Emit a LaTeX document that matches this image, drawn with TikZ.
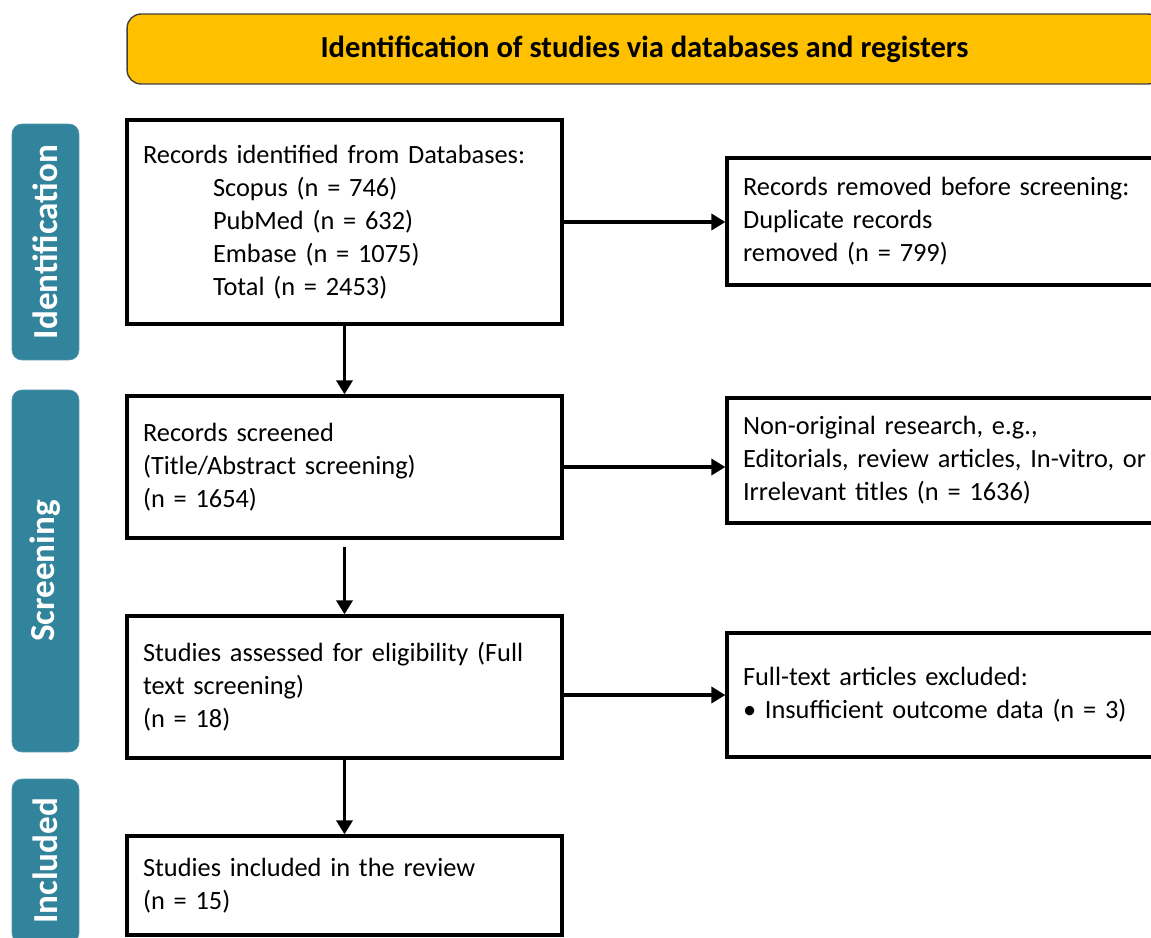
\documentclass[tikz,border=0pt]{standalone}
\usepackage{fontspec}
\setmainfont{Carlito}
\usetikzlibrary{arrows.meta}
\definecolor{bannerYellow}{HTML}{FFC000}
\definecolor{phaseTeal}{HTML}{31849B}
\tikzset{
  box/.style={draw, line width=1.9pt, align=left, inner xsep=0.32cm, font=\fontsize{15}{18.8}\selectfont},
  lbox/.style={box, text width=8.06cm},
  rbox/.style={box, text width=8.22cm},
  phase/.style={fill=phaseTeal, draw=phaseTeal!85!white, rounded corners=0.2cm, rotate=90, text=white, minimum height=1.34cm, font=\fontsize{20}{24}\selectfont\bfseries},
  flow/.style={line width=2.2pt, -{Triangle[length=0.28cm,width=0.32cm]}}
}

\begin{document}
\begin{tikzpicture}[x=0.02cm, y=-0.02cm]
\path[use as bounding box] (0,0) rectangle (1151,937);
\clip (0,0) rectangle (1151,937);
\node[fill=bannerYellow, draw=black!75, line width=0.8pt, rounded corners=0.28cm, minimum width=20.7cm, minimum height=1.4cm, font=\fontsize{17.4}{21}\selectfont\bfseries] (top) at (644.5,49) {Identification of studies via databases and registers};
\node[phase, minimum width=4.72cm] (pid) at (45.5,242) {Identification};
\node[phase, minimum width=7.24cm] (pscr) at (45.5,571) {Screening};
\node[phase, minimum width=3.28cm] (pinc) at (45.5,861) {Included};
\node[lbox, minimum height=4.08cm] (id) at (344.5,222) {Records identified from Databases:\\
  \hspace*{1.4cm}Scopus (n = 746)\\
  \hspace*{1.4cm}PubMed (n = 632)\\
  \hspace*{1.4cm}Embase (n = 1075)\\
  \hspace*{1.4cm}Total (n = 2453)};
\node[rbox, minimum height=2.54cm] (rem) at (948.5,221.5) {Records removed before screening:\\Duplicate records\\removed (n = 799)};
\node[lbox, minimum height=2.84cm] (scr) at (344.5,467) {Records screened\\(Title/Abstract screening)\\(n = 1654)};
\node[rbox, minimum height=2.5cm] (excl) at (948.5,460.5) {Non-original research, e.g.,\\Editorials, review articles, In-vitro, or\\Irrelevant titles (n = 1636)};
\node[lbox, minimum height=2.84cm] (elig) at (344.5,687) {Studies assessed for eligibility (Full\\text screening)\\(n = 18)};
\node[rbox, minimum height=2.48cm] (ftx) at (948.5,695) {Full-text articles excluded:\\\textbullet\ Insufficient outcome data (n = 3)};
\node[lbox, minimum height=1.98cm] (inc) at (344.5,885.5) {Studies included in the review\\(n = 15)};
\draw[flow] (id) -- (scr);
\draw[flow, shorten <=0.14cm] (scr) -- (elig);
\draw[flow] (elig) -- (inc);
\draw[flow] (id.east) -- (id.east -| rem.west);
\draw[flow] (scr.east) -- (scr.east -| excl.west);
\draw[flow] (elig.east |- ftx.west) -- (ftx.west);
\end{tikzpicture}
\end{document}
